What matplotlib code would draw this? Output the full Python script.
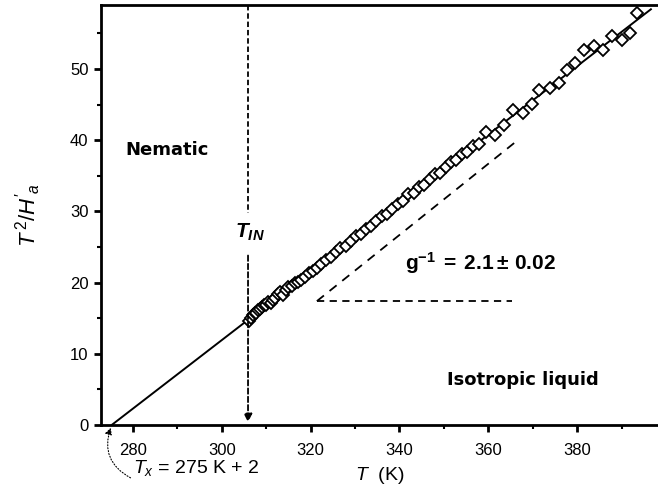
import matplotlib
matplotlib.use("Agg")
import matplotlib.pyplot as plt

plt.rcParams['font.family'] = ['Liberation Sans', 'DejaVu Sans']
plt.rcParams['mathtext.fontset'] = 'custom'
plt.rcParams['mathtext.rm'] = 'Liberation Sans'
plt.rcParams['mathtext.it'] = 'Liberation Sans:italic'
plt.rcParams['mathtext.bf'] = 'Liberation Sans:bold'
plt.rcParams['mathtext.bfit'] = 'Liberation Sans:italic:bold'

# measured points (T in K, T^2/H'_a)
T_data = [306.2, 306.6, 307.0, 307.4, 307.8, 308.2, 308.7, 309.1, 309.6, 310.0,
          310.5, 311.0, 311.5, 312.0, 312.6, 313.2, 313.8, 314.4, 315.0, 315.7,
          316.4, 317.1, 317.9, 318.7, 319.6, 320.5, 321.4, 322.4, 323.4, 324.5,
          325.6, 326.7, 327.9, 329.0, 330.1, 331.3, 332.4, 333.6, 334.8, 336.0,
          337.2, 338.4, 339.6, 340.8, 342.0, 343.2, 344.4, 345.6, 346.8, 348.0,
          349.2, 350.4, 351.6, 352.8, 354.0, 355.3, 356.6, 357.9, 359.5, 361.5,
          363.6, 365.5, 367.8, 369.8, 371.5, 373.9, 375.9, 377.8, 379.5, 381.6,
          383.7, 385.8, 387.8, 390.1, 391.9, 393.4]
Y_data = [14.6, 15.0, 15.5, 15.7, 15.8, 16.2, 16.3, 16.6, 16.9, 16.8,
          17.3, 17.2, 17.6, 17.9, 18.4, 18.7, 18.3, 18.9, 19.4, 19.5,
          19.9, 20.1, 20.4, 20.8, 21.4, 21.6, 22.0, 22.6, 23.2, 23.6,
          24.3, 24.8, 25.2, 25.9, 26.5, 26.9, 27.6, 27.9, 28.7, 29.4,
          29.7, 30.4, 31.1, 31.5, 32.4, 32.6, 33.5, 33.7, 34.6, 35.2,
          35.4, 36.3, 36.9, 37.2, 38.1, 38.3, 39.2, 39.5, 41.1, 40.8,
          42.2, 44.2, 43.8, 45.1, 47.1, 47.4, 48.1, 49.9, 50.9, 52.7,
          53.2, 52.7, 54.6, 54.1, 55.0, 57.9]

# linear fit, extrapolated to T_x
fit_T = [275.2, 396.6]
fit_Y = [0.0, 58.4]

T_IN = 305.9
T_x = 275.2

# slope triangle
tri_T = [321.4, 366.0]
tri_Y = [17.4, 39.7]
hor_T = [321.4, 365.4]

fig = plt.figure(figsize=(6.58, 4.95), dpi=100)
ax = fig.add_axes([0.1535, 0.1414, 0.8465, 0.8485])

ax.plot(fit_T, fit_Y, color='black', lw=1.4)
ax.plot(T_data, Y_data, linestyle='none', marker='D', markersize=6,
        markerfacecolor='white', markeredgecolor='black', markeredgewidth=1.3)

# T_IN vertical dashed line with arrow
ax.plot([T_IN, T_IN], [59, 29.8], color='black', lw=1.3, dashes=(3, 1.6))
ax.annotate('', xy=(T_IN, 0), xytext=(T_IN, 24.2),
            arrowprops=dict(arrowstyle='-|>', color='black', lw=1.3,
                            linestyle=(0, (3, 1.6)), mutation_scale=12))
ax.text(T_IN + 0.4, 27.0, r'$\mathbfit{T}_{\mathbfit{IN}}$', fontsize=15,
        ha='center', va='center')

# slope triangle
ax.plot(tri_T, tri_Y, color='black', lw=1.3, dashes=(5, 4))
ax.plot(hor_T, [tri_Y[0], tri_Y[0]], color='black', lw=1.3, dashes=(4, 3))
ax.text(341.3, 22.7, r'$\mathbf{g^{-1}\;=\;2.1\pm\,0.02}$', fontsize=15,
        ha='left', va='center')

ax.text(278.2, 38.7, 'Nematic', fontsize=13, fontweight='bold',
        family=['DejaVu Sans'], ha='left', va='center')
ax.text(350.7, 6.3, 'Isotropic liquid', fontsize=13, fontweight='bold',
        family=['DejaVu Sans'], ha='left', va='center')

# T_x annotation
ax.annotate('', xy=(T_x, 0), xytext=(280.0, -7.6), annotation_clip=False,
            arrowprops=dict(arrowstyle='-|>', color='black', lw=0.8,
                            linestyle=':', connectionstyle='arc3,rad=-0.45',
                            mutation_scale=10))
ax.text(280.0, -6.0, r'$T_x$ = 275 K + 2', fontsize=14, ha='left', va='center',
        clip_on=False)

ax.set_xlim(272.8, 398.2)
ax.set_ylim(0, 59)
ax.set_xticks([280, 300, 320, 340, 360, 380])
ax.set_xticks(range(290, 400, 20), minor=True)
ax.set_yticks([0, 10, 20, 30, 40, 50])
ax.set_yticks([5, 15, 25, 35, 45, 55], minor=True)

for side in ['left', 'bottom', 'top']:
    ax.spines[side].set_linewidth(2)
ax.spines['right'].set_visible(False)
ax.tick_params(which='major', direction='out', length=5, width=2, labelsize=12, pad=4)
ax.tick_params(which='minor', direction='out', length=3, width=1.5)
ax.tick_params(axis='x', which='major', pad=8)

ax.set_xlabel(r'$T$  (K)', fontsize=14, labelpad=5)
ax.set_ylabel(r"$T^{\,2}/H'_{a}$", fontsize=16, labelpad=19)

fig.savefig('out.png', dpi=100)
